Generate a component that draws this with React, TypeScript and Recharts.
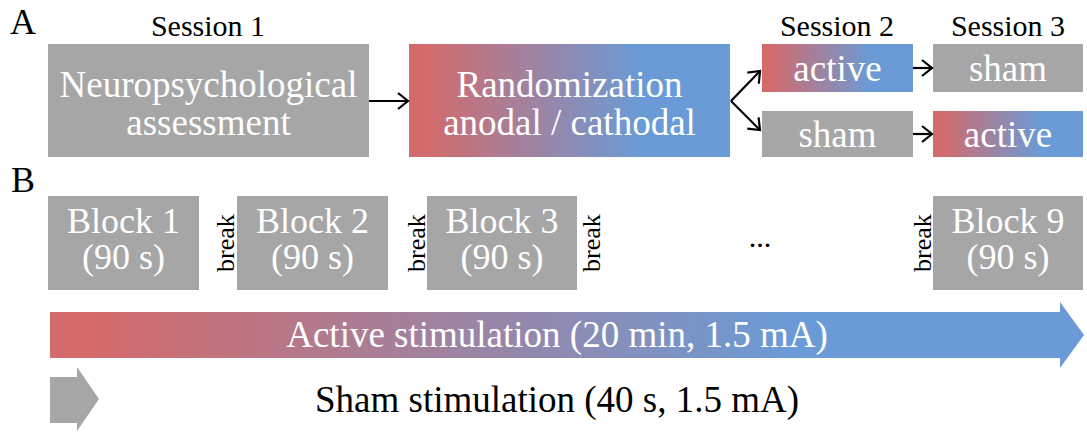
import React from 'react';
import { ScatterChart, Scatter, XAxis, YAxis, ReferenceArea, ReferenceLine } from 'recharts';

document.body.style.margin = '0';

const W = 1087;
const H = 432;
const FONT = '"Liberation Serif"';
const GRAY = '#a6a6a6';
const RED = '#d56a6a';
const BLUE = '#6a9bd6';

// panel A: study design boxes (diagram coordinates)
const sessionBoxes = [
  { x1: 48, x2: 369, y1: 44, y2: 157, kind: 'sham', lines: ['Neuropsychological', 'assessment'] },
  { x1: 409, x2: 730, y1: 44, y2: 157, kind: 'active', lines: ['Randomization', 'anodal / cathodal'] },
  { x1: 762, x2: 913, y1: 44, y2: 92, kind: 'active', lines: ['active'] },
  { x1: 762, x2: 913, y1: 111, y2: 157, kind: 'sham', lines: ['sham'] },
  { x1: 933, x2: 1083, y1: 44, y2: 92, kind: 'sham', lines: ['sham'] },
  { x1: 933, x2: 1083, y1: 111, y2: 157, kind: 'active', lines: ['active'] },
];

const sessionTitles = [
  { x: 208, y: 36, text: 'Session 1' },
  { x: 837, y: 36, text: 'Session 2' },
  { x: 1008, y: 36, text: 'Session 3' },
];

const panelLetters = [
  { x: 10, y: 34, text: 'A' },
  { x: 11, y: 192, text: 'B' },
];

const flowArrows = [
  { x1: 369, y1: 101, x2: 408, y2: 101 },
  { x1: 731, y1: 101, x2: 760, y2: 71 },
  { x1: 731, y1: 101, x2: 760, y2: 130 },
  { x1: 913, y1: 68, x2: 932, y2: 68 },
  { x1: 913, y1: 134, x2: 932, y2: 134 },
];

// panel B: blocks
const blockNames = ['Block 1', 'Block 2', 'Block 3', 'Block 9'];
const blockDuration = '(90 s)';
const blockStart = [48, 237, 427, 933];
const blockEnd = [199, 388, 577, 1083];
const blockTop = 196;
const blockBottom = 290;
const breakAt = [234, 425, 600, 931];
const ellipsis = [{ x: 760, y: 247, text: '...' }];

const stimArrows = [
  { kind: 'active', x1: 50, x2: 1084, y1: 302, y2: 368, shaftTop: 312, shaftBottom: 358, headX: 1060 },
  { kind: 'sham', x1: 50, x2: 99, y1: 367, y2: 431, shaftTop: 377, shaftBottom: 423, headX: 77 },
];

const stimLabels = [
  { x: 557, y: 347, text: 'Active stimulation (20 min, 1.5 mA)', color: '#ffffff' },
  { x: 557, y: 412, text: 'Sham stimulation (40 s, 1.5 mA)', color: '#000000' },
];

const blocks = blockNames.map((name, i) => ({
  x1: blockStart[i],
  x2: blockEnd[i],
  y1: blockTop,
  y2: blockBottom,
  lines: [name, blockDuration],
}));

const sessionCenters = sessionBoxes.map((b) => ({ x: (b.x1 + b.x2) / 2, y: (b.y1 + b.y2) / 2, lines: b.lines }));
const blockCenters = blocks.map((b) => ({ x: (b.x1 + b.x2) / 2, y: (b.y1 + b.y2) / 2, lines: b.lines }));
const breakLabels = breakAt.map((x) => ({ x, y: (blockTop + blockBottom) / 2, text: 'break' }));

const fillOf = (kind: string) => (kind === 'active' ? 'url(#stimGrad)' : GRAY);

const boxShape = (fill: string) => (p: any) => (
  <rect x={p.x} y={p.y} width={p.width} height={p.height} fill={fill} />
);

const stimShape = (a: any) => (p: any) => {
  const fx = (v: number) => p.x + ((v - a.x1) / (a.x2 - a.x1)) * p.width;
  const fy = (v: number) => p.y + ((v - a.y1) / (a.y2 - a.y1)) * p.height;
  const pts = [
    [fx(a.x1), fy(a.shaftTop)],
    [fx(a.headX), fy(a.shaftTop)],
    [fx(a.headX), p.y],
    [p.x + p.width, p.y + p.height / 2],
    [fx(a.headX), p.y + p.height],
    [fx(a.headX), fy(a.shaftBottom)],
    [fx(a.x1), fy(a.shaftBottom)],
  ];
  return <polygon points={pts.map((q) => q.join(',')).join(' ')} fill={fillOf(a.kind)} />;
};

const arrowShape = (p: any) => {
  const { x1, y1, x2, y2 } = p;
  const len = Math.hypot(x2 - x1, y2 - y1) || 1;
  const ux = (x2 - x1) / len;
  const uy = (y2 - y1) / len;
  const L = 10;
  const Wd = 8;
  const a = [x2 - L * ux - Wd * uy, y2 - L * uy + Wd * ux];
  const b = [x2 - L * ux + Wd * uy, y2 - L * uy - Wd * ux];
  return (
    <g>
      <line x1={x1} y1={y1} x2={x2} y2={y2} stroke="#000" strokeWidth={2.2} />
      <polyline
        points={`${a[0]},${a[1]} ${x2},${y2} ${b[0]},${b[1]}`}
        fill="none"
        stroke="#000"
        strokeWidth={2.2}
        strokeLinejoin="miter"
      />
    </g>
  );
};

const textShape = (size: number, color: string, anchor: string) => (p: any) => (
  <text
    x={p.cx}
    y={p.cy}
    fill={p.payload.color || color}
    textAnchor={anchor}
    style={{ fontFamily: FONT, fontSize: size }}
  >
    {p.payload.text}
  </text>
);

const multiLineShape = (size: number, gap: number, shift: number) => (p: any) => {
  const lines: string[] = p.payload.lines;
  return (
    <g>
      {lines.map((ln, i) => {
        const dy = lines.length === 1 ? 13 : shift + i * gap;
        return (
          <text
            key={i}
            x={p.cx}
            y={p.cy + dy}
            fill="#ffffff"
            textAnchor="middle"
            style={{ fontFamily: FONT, fontSize: size }}
          >
            {ln}
          </text>
        );
      })}
    </g>
  );
};

const breakShape = (p: any) => (
  <text
    x={p.cx}
    y={p.cy}
    fill="#000"
    textAnchor="middle"
    style={{ fontFamily: FONT, fontSize: 26 }}
    transform={`rotate(-90 ${p.cx} ${p.cy})`}
  >
    {p.payload.text}
  </text>
);

export default function App() {
  return (
    <div style={{ width: W, height: H, background: '#fff', fontFamily: FONT }}>
      <ScatterChart width={W} height={H} margin={{ top: 0, right: 0, bottom: 0, left: 0 }}>
        <defs>
          <linearGradient id="stimGrad" x1="0" y1="0" x2="1" y2="0">
            <stop offset="0%" stopColor={RED} />
            <stop offset="4%" stopColor={RED} />
            <stop offset="72%" stopColor={BLUE} />
            <stop offset="100%" stopColor={BLUE} />
          </linearGradient>
        </defs>
        <XAxis type="number" dataKey="x" domain={[0, W]} scale="linear" allowDataOverflow hide />
        <YAxis type="number" dataKey="y" domain={[0, H]} scale="linear" allowDataOverflow reversed hide />

        {sessionBoxes.map((b, i) => (
          <ReferenceArea
            key={`s${i}`}
            x1={b.x1}
            x2={b.x2}
            y1={b.y1}
            y2={b.y2}
            ifOverflow="visible"
            shape={boxShape(fillOf(b.kind))}
          />
        ))}
        {blocks.map((b, i) => (
          <ReferenceArea
            key={`b${i}`}
            x1={b.x1}
            x2={b.x2}
            y1={b.y1}
            y2={b.y2}
            ifOverflow="visible"
            shape={boxShape(GRAY)}
          />
        ))}
        {stimArrows.map((a, i) => (
          <ReferenceArea
            key={`a${i}`}
            x1={a.x1}
            x2={a.x2}
            y1={a.y1}
            y2={a.y2}
            ifOverflow="visible"
            shape={stimShape(a)}
          />
        ))}
        {flowArrows.map((f, i) => (
          <ReferenceLine
            key={`f${i}`}
            segment={[
              { x: f.x1, y: f.y1 },
              { x: f.x2, y: f.y2 },
            ]}
            ifOverflow="visible"
            shape={arrowShape}
          />
        ))}

        <Scatter data={panelLetters} isAnimationActive={false} shape={textShape(36, '#000', 'start')} />
        <Scatter data={sessionTitles} isAnimationActive={false} shape={textShape(30, '#000', 'middle')} />
        <Scatter data={sessionCenters} isAnimationActive={false} shape={multiLineShape(37, 38, -4)} />
        <Scatter data={blockCenters} isAnimationActive={false} shape={multiLineShape(36, 36, -10)} />
        <Scatter data={breakLabels} isAnimationActive={false} shape={breakShape} />
        <Scatter data={ellipsis} isAnimationActive={false} shape={textShape(30, '#000', 'middle')} />
        <Scatter data={stimLabels} isAnimationActive={false} shape={textShape(37, '#000', 'middle')} />
      </ScatterChart>
    </div>
  );
}
